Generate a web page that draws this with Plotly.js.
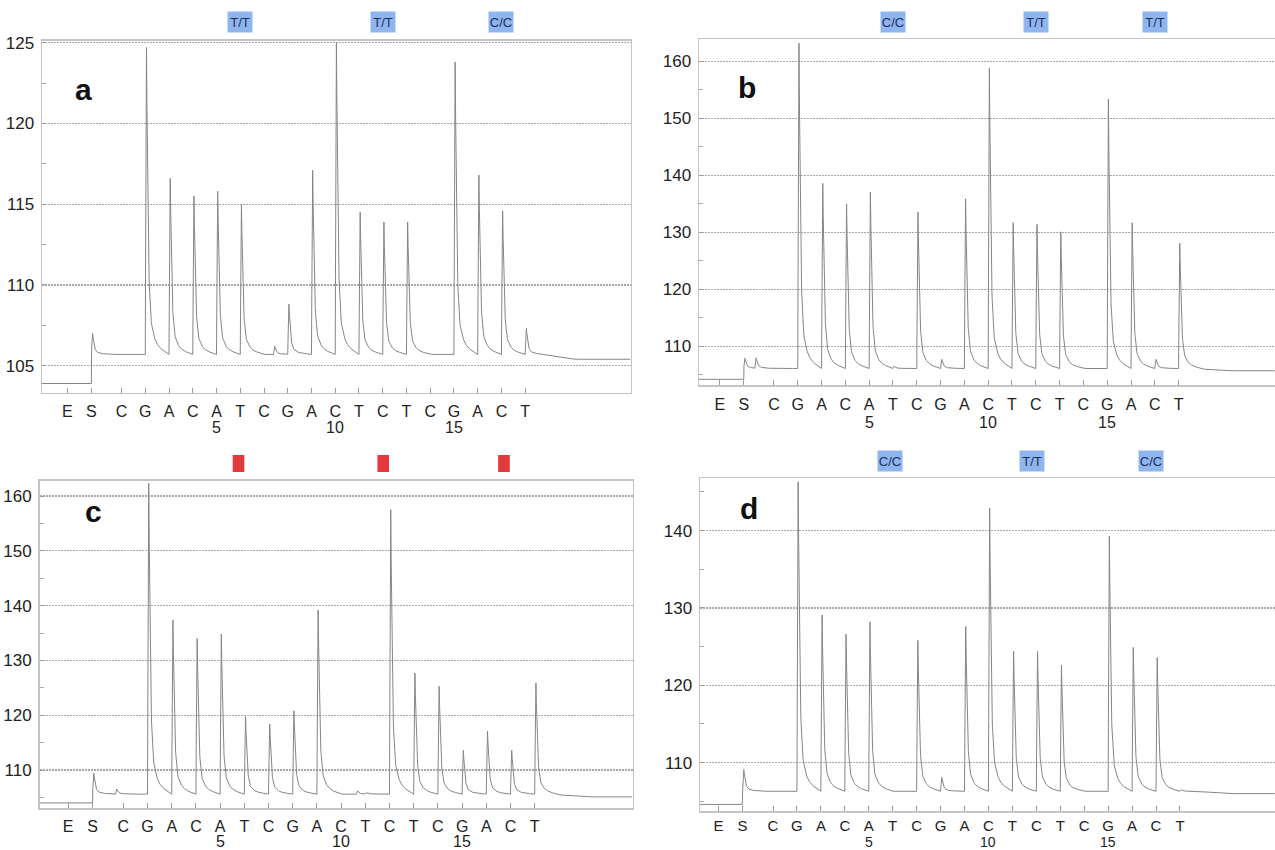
<!DOCTYPE html>
<html>
<head>
<meta charset="utf-8">
<script src="https://cdn.plot.ly/plotly-3.0.1.min.js"></script>
<style>html,body{margin:0;padding:0;background:#fff;}#chart{width:1275px;height:850px;}</style>
</head>
<body>
<div id="chart"></div>
<script>
// ---------- DATA ----------
const dispensations = ["C","G","A","C","A","T","C","G","A","C","T","C","T","C","G","A","C","T"];
const numberedPositions = [5, 10, 15];

// Peak heights (signal) at each dispensation 1..18 ; null = no peak
const peaksA = [null,124.7,116.6,115.5,115.8,115.0,null,108.8,117.1,125.0,114.5,113.9,113.9,null,123.8,116.8,114.6,107.3];
const peaksB = [null,163.2,138.6,135.0,137.1,106.5,133.6,107.7,135.9,158.8,131.7,131.4,130.1,null,153.4,131.7,107.7,128.1];
const peaksC = [null,162.3,137.4,134.0,134.8,119.8,118.4,120.8,139.2,null,105.9,157.5,127.7,125.3,113.6,117.1,113.6,125.9];
const peaksD = [null,146.3,129.1,126.6,128.2,null,125.8,108.1,127.6,142.9,124.4,124.4,122.6,null,139.3,124.9,123.6,106.5];

// Baseline levels: [before S, after S, after last dispensation]
const levelsA = [103.9, 105.7, 105.4];
const levelsB = [104.2, 106.1, 105.7];
const levelsC = [104.0, 105.6, 105.1];
const levelsD = [104.6, 106.3, 106.0];

// Substrate (S) peak heights
const sPeakA = 107.0, sPeakB = 107.9, sPeakC = 109.4, sPeakD = 109.1;

// Small extra bumps [dispensation position, height]
const bumpsA = [[7.4, 106.2]];
const bumpsB = [[0.2, 107.9]];
const bumpsC = [[0.68, 106.5], [10.63, 106.2]];
const bumpsD = [];

// Genotype calls above each panel
const callsA = ["T/T","T/T","C/C"], callPosA = [6, 12, 17];
const callsB = ["C/C","T/T","T/T"], callPosB = [6, 12, 17];
const markPosC = [5.76, 11.74, 16.73];
const callsD = ["C/C","T/T","C/C"], callPosD = [5.9, 11.8, 16.8];

const panelLetters = ["a","b","c","d"];

// ---------- RENDERING ----------
const W = 1275, H = 850;
const POS_E = -1.28, POS_S = -0.27;
// peak outline: offset from dispensation (units) -> fraction of peak amplitude
const PROFILE = [[0,0],[0.02,0.5],[0.05,1],[0.08,0.72],[0.11,0.45],[0.15,0.27],[0.2,0.16],[0.26,0.1],[0.34,0.065],[0.45,0.04],[0.6,0.022],[0.8,0.01],[1.0,0]];
function prof(d){
  if (d < 0 || d >= 1) return 0;
  for (let i=1;i<PROFILE.length;i++){
    if (d <= PROFILE[i][0]){
      const a=PROFILE[i-1], b=PROFILE[i];
      return a[1] + (b[1]-a[1])*(d-a[0])/(b[0]-a[0]);
    }
  }
  return 0;
}
function buildSignal(xr, levels, sPeak, peaks, bumps){
  const xs=[], ys=[];
  const pk = [[POS_S, sPeak]];
  peaks.forEach((h,i)=>{ if(h!==null) pk.push([i+1, h]); });
  bumps.forEach(b=>pk.push(b));
  for (let x = xr[0]; x <= xr[1]; x += 0.01){
    let base;
    if (x < POS_S) base = levels[0];
    else if (x < 18.6) base = levels[1];
    else base = levels[1] + (levels[2]-levels[1]) * Math.min(1, (x-18.6)/1.5);
    let y = base;
    pk.forEach(p=>{ y += (p[1]-levels[1]) * prof(x - p[0]); });
    xs.push(+x.toFixed(3)); ys.push(y);
  }
  return {x: xs, y: ys};
}
const px = v => v / W;
const py = v => 1 - v / H;

const tickVals = [POS_E, POS_S].concat(dispensations.map((d,i)=>i+1));
const tickText = ["E","S"].concat(dispensations);

const FONT = "Liberation Sans Narrow, Arial Narrow, Liberation Sans, Arial, sans-serif";

const panels = [
  {peaks: peaksA, levels: levelsA, s: sPeakA, bumps: bumpsA, xr: [-2.35, 22.44], yr: [103.33, 125.12], dx: [42, 630.6], dy: [40.7, 392.7], dtick: 5, minor: 2.5, letter: [83, 90], numY: 427, numSize: 16, tickSize: 16, standoff: 4},
  {peaks: peaksB, levels: levelsB, s: sPeakB, bumps: bumpsB, xr: [-2.15, 22.05], yr: [103.2, 163.9], dx: [699, 1275], dy: [39.3, 385], dtick: 10, minor: 5, letter: [747, 88], numY: 422, numSize: 16, tickSize: 16, standoff: 4},
  {peaks: peaksC, levels: levelsC, s: sPeakC, bumps: bumpsC, xr: [-2.46, 22.05], yr: [103.07, 162.8], dx: [39.6, 632.7], dy: [480.7, 808], dtick: 10, minor: 5, letter: [93, 512], numY: 841, numSize: 16, tickSize: 16, standoff: 3},
  {peaks: peaksD, levels: levelsD, s: sPeakD, bumps: bumpsD, xr: [-2.05, 21.97], yr: [103.75, 146.8], dx: [700, 1275], dy: [478, 811], dtick: 10, minor: 5, letter: [749, 508], numY: 842, numSize: 14, tickSize: 15, standoff: 0}
];

const traces = [];
const layout = {
  width: W, height: H, margin: {l:0, r:0, t:0, b:0},
  paper_bgcolor: "#fff", plot_bgcolor: "#fff", showlegend: false,
  annotations: [], shapes: []
};

panels.forEach((p, k) => {
  const n = k === 0 ? "" : String(k+1);
  const sig = buildSignal(p.xr, p.levels, p.s, p.peaks, p.bumps);
  traces.push({type: "scatter", mode: "lines", x: sig.x, y: sig.y, xaxis: "x"+n, yaxis: "y"+n,
    line: {color: "#858585", width: 1}, hoverinfo: "skip"});
  layout["xaxis"+n] = {
    domain: [px(p.dx[0]), px(p.dx[1])], range: p.xr, anchor: "y"+n,
    tickmode: "array", tickvals: tickVals, ticktext: tickText,
    ticks: "inside", ticklen: 5, tickcolor: "#9a9a9a", tickwidth: 1,
    showgrid: false, zeroline: false, showline: true, linecolor: "#c4c4c4", linewidth: 1.5, mirror: true,
    tickfont: {family: FONT, size: p.tickSize, color: "#222"}, ticklabelstandoff: p.standoff
  };
  layout["yaxis"+n] = {
    domain: [py(p.dy[1]), py(p.dy[0])], range: p.yr, anchor: "x"+n,
    tick0: 0, dtick: p.dtick, ticks: "inside", ticklen: 4, tickcolor: "#9a9a9a",
    showgrid: true, gridcolor: "#a8a8a8", griddash: "2px,1px", gridwidth: 1.2,
    minor: {dtick: p.minor, tick0: 0, ticks: "inside", ticklen: 4, tickcolor: "#aaa", showgrid: false},
    zeroline: false, showline: true, linecolor: "#c4c4c4", linewidth: 1.5, mirror: true,
    tickfont: {family: FONT, size: 17, color: "#222"}, ticklabelstandoff: 3
  };
  layout.annotations.push({xref: "paper", yref: "paper", x: px(p.letter[0]), y: py(p.letter[1]),
    text: "<b>" + panelLetters[k] + "</b>", showarrow: false, xanchor: "center", yanchor: "middle",
    font: {family: "Liberation Sans, Arial, sans-serif", size: 30, color: "#111"}});
  numberedPositions.forEach(v => {
    layout.annotations.push({xref: "x"+n, yref: "paper", x: v, y: py(p.numY), text: String(v),
      showarrow: false, xanchor: "center", yanchor: "middle", borderpad: 0,
      font: {family: FONT, size: p.numSize, color: "#222"}});
  });
});

function addCalls(calls, pos, n, ypx){
  calls.forEach((c, i) => {
    layout.annotations.push({xref: "x"+n, yref: "paper", x: pos[i], y: py(ypx), text: c, showarrow: false,
      xanchor: "center", yanchor: "middle", bgcolor: "#8fb5ee", width: 22, height: 18, borderpad: 1,
      font: {family: FONT, size: 13, color: "#1e2d5c"}});
  });
}
addCalls(callsA, callPosA, "", 22);
addCalls(callsB, callPosB, "2", 22);
addCalls(callsD, callPosD, "4", 461);
markPosC.forEach(m => {
  layout.shapes.push({type: "rect", xref: "x3", yref: "paper", x0: m - 0.24, x1: m + 0.24,
    y0: py(472), y1: py(455), fillcolor: "#e2393f", line: {width: 0}});
});

Plotly.newPlot("chart", traces, layout, {staticPlot: true, displayModeBar: false});
</script>
</body>
</html>
